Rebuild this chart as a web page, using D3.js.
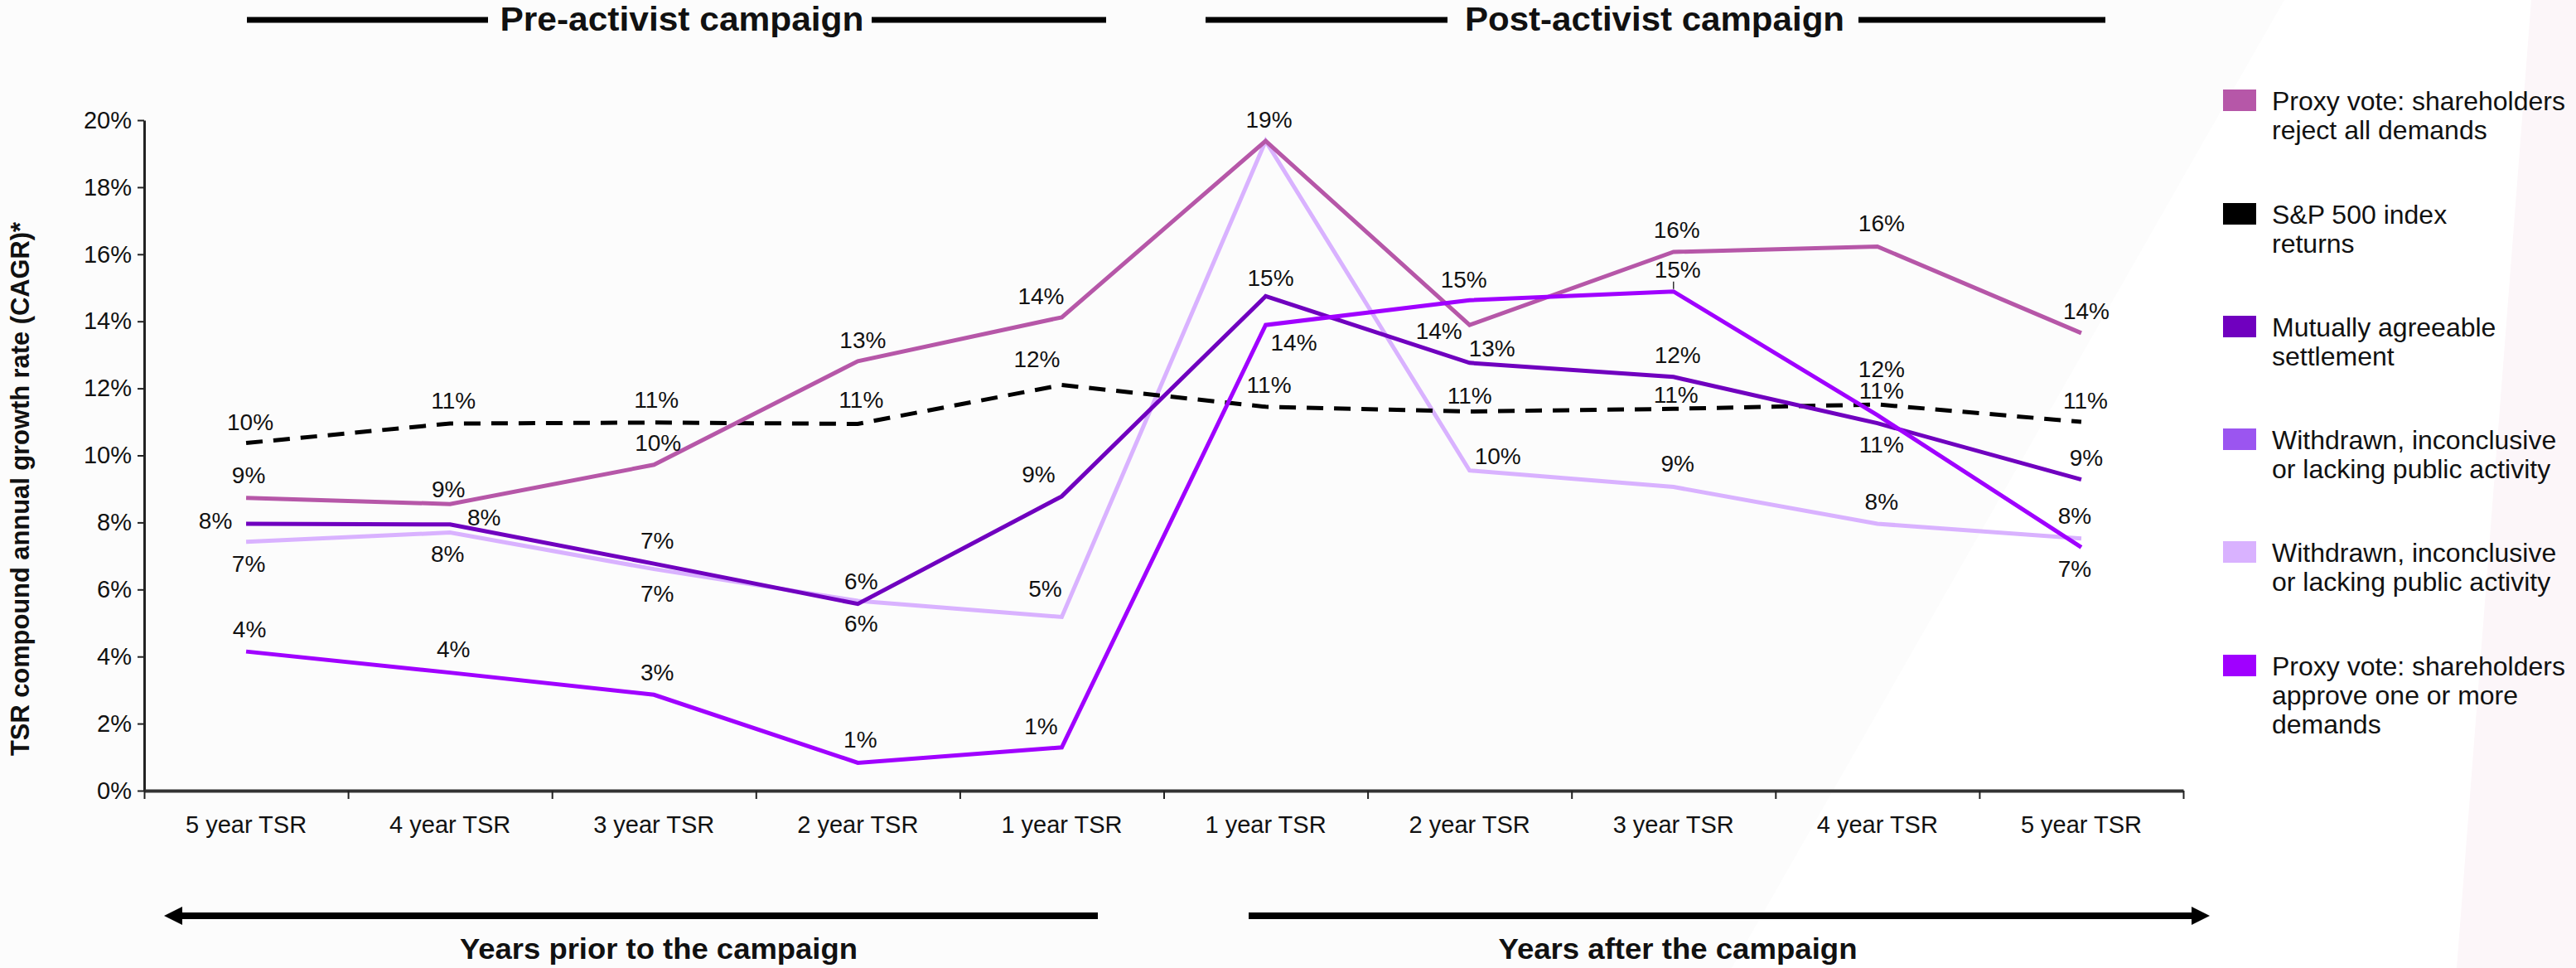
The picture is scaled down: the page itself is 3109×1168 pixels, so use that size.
<!DOCTYPE html>
<html>
<head>
<meta charset="utf-8">
<script src="https://cdn.jsdelivr.net/npm/d3@7"></script>
<style>
  html, body { margin: 0; padding: 0; background: #ffffff; }
  svg { display: block; }
  text { font-family: "Liberation Sans", Arial, sans-serif; fill: #111; }
  .cond { font-family: "Liberation Sans Narrow", "Liberation Sans", Arial, sans-serif; font-weight: bold; }
</style>
</head>
<body>
<svg id="chart" width="3109" height="1168"></svg>
<script>
// ---- data -------------------------------------------------------------
const categories = ["5 year TSR", "4 year TSR", "3 year TSR", "2 year TSR", "1 year TSR",
                    "1 year TSR", "2 year TSR", "3 year TSR", "4 year TSR", "5 year TSR"];

const rejectAll     = [8.73, 8.55, 9.72, 12.81, 14.12, 19.38, 13.89, 16.07, 16.23, 13.65];
const sp500         = [10.37, 10.95, 10.98, 10.94, 12.10, 11.45, 11.31, 11.39, 11.52, 11.00];
const settlement    = [7.96, 7.94, 6.77, 5.57, 8.78, 14.75, 12.76, 12.34, 10.96, 9.28];
const withdrawn     = [7.42, 7.70, 6.61, 5.66, 5.18, 19.38, 9.55, 9.06, 7.96, 7.52];
const approveSome   = [4.15, 3.52, 2.86, 0.83, 1.29, 13.89, 14.63, 14.89, 11.20, 7.26];

const yTicks = [0, 2, 4, 6, 8, 10, 12, 14, 16, 18, 20];

const legendItems = [
  ["Proxy vote: shareholders", "reject all demands"],
  ["S&P 500 index", "returns"],
  ["Mutually agreeable", "settlement"],
  ["Withdrawn, inconclusive", "or lacking public activity"],
  ["Withdrawn, inconclusive", "or lacking public activity"],
  ["Proxy vote: shareholders", "approve one or more", "demands"]
];
const legendColors = ["#b657a8", "#000000", "#7000bf", "#9b55f0", "#d9b2ff", "#a000ff"];

// value-label placement (dx, dy of the text baseline from each point); null = no label
const labelOffsets = {
  withdrawn:   [[3, 36], [-3, 35], [4, 39], [4, 37], [-20, -24], null, [34, -8], [5, -19], [5, -17], [-8, -18]],
  sp500:       [[5, -16], [4, -18], [3, -18], [4, -19], [-30, -22], [4, -17], [0, -10], [3, -7], [5, -33], [5, -16]],
  rejectAll:   [[3, -18], [-2, -8], [5, -17], [6, -16], [-25, -16], [4, -16], [-37, 17], [4, -17], [5, -18], [6, -17]],
  settlement:  [[-37, 6], [41, 1], [4, -18], [4, -18], [-28, -17], [6, -12], [27, -8], [5, -17], [5, 35], [6, -17]],
  approveSome: [[4, -17], [4, -19], [4, -17], [3, -18], [-25, -16], [34, 31], [-7, -15], [5, -17], [5, -20], [-8, 36]]
};

// drawing order: bottom to top
const series = [
  { key: "withdrawn",   values: withdrawn,   color: "#d9b2ff", width: 5, dash: null },
  { key: "sp500",       values: sp500,       color: "#000000", width: 5, dash: "20,13" },
  { key: "rejectAll",   values: rejectAll,   color: "#b657a8", width: 5, dash: null },
  { key: "settlement",  values: settlement,  color: "#7000bf", width: 5, dash: null },
  { key: "approveSome", values: approveSome, color: "#a000ff", width: 5, dash: null }
];

// ---- layout -----------------------------------------------------------
const svg = d3.select("#chart");
const W = 3109, H = 1168;
const plot = { left: 174, right: 2635, top: 145, bottom: 954 };

// faint background shading
svg.append("rect").attr("width", W).attr("height", H).attr("fill", "#fcfcfc");
svg.append("polygon").attr("points", "2757,0 3109,0 3109,1168 2090,1168").attr("fill", "#ffffff");
svg.append("polygon").attr("points", "3055,0 3109,0 3109,1168 2965,1168").attr("fill", "#fcf6f9");

const x = d3.scaleBand().domain(d3.range(categories.length)).range([plot.left, plot.right]).padding(0);
const xc = i => x(i) + x.bandwidth() / 2;
const y = d3.scaleLinear().domain([0, 20]).range([plot.bottom, plot.top]);

// ---- axes -------------------------------------------------------------
const yAxis = d3.axisLeft(y).tickValues(yTicks).tickFormat(d => d + "%").tickSize(8).tickSizeOuter(0).tickPadding(7);
const gy = svg.append("g").attr("transform", `translate(${plot.left},0)`).call(yAxis);
gy.select(".domain").attr("stroke", "#222").attr("stroke-width", 3);
gy.selectAll(".tick line").attr("stroke", "#222").attr("stroke-width", 2);
gy.selectAll(".tick text").style("font-size", "29px").style("font-family", "'Liberation Sans', Arial, sans-serif").attr("fill", "#111");

const xEdges = d3.scaleLinear().domain([0, categories.length]).range([plot.left, plot.right]);
const xAxis = d3.axisBottom(xEdges).tickValues(d3.range(categories.length + 1)).tickFormat("").tickSize(10).tickSizeOuter(0);
const gx = svg.append("g").attr("transform", `translate(0,${plot.bottom})`).call(xAxis);
gx.select(".domain").attr("stroke", "#333").attr("stroke-width", 4);
gx.selectAll(".tick line").attr("stroke", "#222").attr("stroke-width", 2);

svg.append("g").selectAll("text").data(categories).join("text")
  .attr("x", (d, i) => xc(i)).attr("y", 1005)
  .attr("text-anchor", "middle").style("font-size", "29px")
  .text(d => d);

// y-axis title
svg.append("text").attr("class", "cond")
  .attr("transform", "translate(35,590) rotate(-90)")
  .attr("text-anchor", "middle").style("font-size", "32px").style("font-weight", "600")
  .attr("textLength", 644).attr("lengthAdjust", "spacingAndGlyphs")
  .text("TSR compound annual growth rate (CAGR)*");

// ---- lines ------------------------------------------------------------
const line = d3.line().x((d, i) => xc(i)).y(d => y(d));
series.forEach(s => {
  svg.append("path").datum(s.values)
    .attr("d", line).attr("fill", "none")
    .attr("stroke", s.color).attr("stroke-width", s.width)
    .attr("stroke-dasharray", s.dash)
    .attr("stroke-linejoin", "miter");
});

// ---- value labels -----------------------------------------------------
series.forEach(s => {
  const offs = labelOffsets[s.key];
  const pts = s.values.map((v, i) => ({ v, i, off: offs[i] })).filter(p => p.off !== null);
  svg.append("g").selectAll("text").data(pts).join("text")
    .attr("x", p => xc(p.i) + p.off[0])
    .attr("y", p => y(p.v) + p.off[1])
    .attr("text-anchor", "middle").style("font-size", "28px")
    .text(p => Math.round(p.v) + "%");
});
// short leader between the 3-year post label and its point
svg.append("line")
  .attr("x1", xc(7)).attr("x2", xc(7))
  .attr("y1", y(approveSome[7]) - 12).attr("y2", y(approveSome[7]) - 3)
  .attr("stroke", "#333").attr("stroke-width", 1.5);

// ---- section headers --------------------------------------------------
function header(cx, text, width, lineL, lineR) {
  svg.append("line").attr("x1", lineL[0]).attr("x2", lineL[1]).attr("y1", 24).attr("y2", 24)
    .attr("stroke", "#000").attr("stroke-width", 7);
  svg.append("line").attr("x1", lineR[0]).attr("x2", lineR[1]).attr("y1", 24).attr("y2", 24)
    .attr("stroke", "#000").attr("stroke-width", 7);
  svg.append("text").attr("class", "cond").attr("x", cx).attr("y", 37)
    .attr("text-anchor", "middle").style("font-size", "41px")
    .attr("textLength", width).attr("lengthAdjust", "spacingAndGlyphs")
    .text(text);
}
header(823, "Pre-activist campaign", 439, [298, 589], [1052, 1335]);
header(1997, "Post-activist campaign", 458, [1455, 1747], [2243, 2541]);

// ---- bottom arrows ----------------------------------------------------
const ay = 1105;
svg.append("line").attr("x1", 216).attr("x2", 1325).attr("y1", ay).attr("y2", ay).attr("stroke", "#000").attr("stroke-width", 8);
svg.append("polygon").attr("points", `198,${ay} 220,${ay - 11} 220,${ay + 11}`).attr("fill", "#000");
svg.append("line").attr("x1", 1507).attr("x2", 2649).attr("y1", ay).attr("y2", ay).attr("stroke", "#000").attr("stroke-width", 8);
svg.append("polygon").attr("points", `2667,${ay} 2645,${ay - 11} 2645,${ay + 11}`).attr("fill", "#000");

svg.append("text").attr("class", "cond").attr("x", 795).attr("y", 1157)
  .attr("text-anchor", "middle").style("font-size", "35px")
  .attr("textLength", 480).attr("lengthAdjust", "spacingAndGlyphs")
  .text("Years prior to the campaign");
svg.append("text").attr("class", "cond").attr("x", 2025).attr("y", 1157)
  .attr("text-anchor", "middle").style("font-size", "35px")
  .attr("textLength", 433).attr("lengthAdjust", "spacingAndGlyphs")
  .text("Years after the campaign");

// ---- legend -----------------------------------------------------------
const legendTops = [108, 245, 381, 517, 653, 790];
const lg = svg.append("g");
legendItems.forEach((lines, i) => {
  const top = legendTops[i];
  lg.append("rect").attr("x", 2683).attr("y", top).attr("width", 40).attr("height", 26).attr("fill", legendColors[i]);
  const t = lg.append("text").attr("x", 2742).attr("y", top + 25).style("font-size", "32px");
  lines.forEach((ln, j) => {
    t.append("tspan").attr("x", 2742).attr("dy", j === 0 ? 0 : 35).text(ln);
  });
});
</script>
</body>
</html>
